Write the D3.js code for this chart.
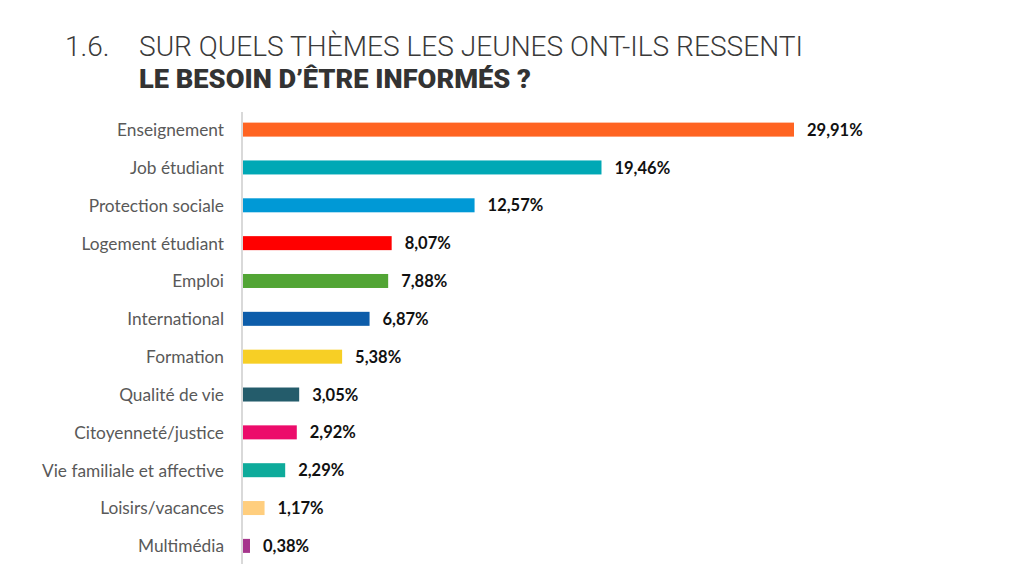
<!DOCTYPE html>
<html><head><meta charset="utf-8">
<script src="https://cdn.jsdelivr.net/npm/d3@7"></script>
<style>body{margin:0;background:#fff}svg{display:block}</style>
</head><body><svg id="c" width="1024" height="579"></svg>
<script>
const categories = ["Enseignement","Job étudiant","Protection sociale","Logement étudiant","Emploi","International","Formation","Qualité de vie","Citoyenneté/justice","Vie familiale et affective","Loisirs/vacances","Multimédia"];
const values = [29.91,19.46,12.57,8.07,7.88,6.87,5.38,3.05,2.92,2.29,1.17,0.38];
const valueLabels = ["29,91%","19,46%","12,57%","8,07%","7,88%","6,87%","5,38%","3,05%","2,92%","2,29%","1,17%","0,38%"];
const colors = ["#FF6422","#00A8B5","#0099D6","#FF0000","#52A535","#0D5DAA","#F7CF25","#245C6B","#EC0C6B","#0EAB9B","#FFCE7E","#A6368C"];
const titleNum = "1.6.";
const titleLine1 = "SUR QUELS THÈMES LES JEUNES ONT-ILS RESSENTI";
const titleLine2 = "LE BESOIN D’ÊTRE INFORMÉS ?";

const svg = d3.select("#c");
const x0 = 243;
const x = d3.scaleLinear().domain([0, 29.91]).range([x0, 794]);
const y = d3.scaleBand().domain(categories).range([110.5, 565]).paddingInner(0.63).paddingOuter(0.32);

// title
svg.append("text").attr("x",65).attr("y",56).attr("font-family","Roboto").attr("font-weight",300)
  .attr("font-size",28).attr("fill","#3a3a3a").text(titleNum);
svg.append("text").attr("x",139).attr("y",56).attr("font-family","Roboto").attr("font-weight",300)
  .attr("font-size",28).attr("fill","#3a3a3a").attr("textLength",664).attr("lengthAdjust","spacingAndGlyphs").text(titleLine1);
svg.append("text").attr("x",139).attr("y",88).attr("font-family","Roboto").attr("font-weight",900)
  .attr("font-size",26).attr("fill","#333").attr("textLength",392).attr("lengthAdjust","spacingAndGlyphs").text(titleLine2);

// bars
svg.append("g").selectAll("rect").data(categories).join("rect")
  .attr("x", x0).attr("y", d => y(d)).attr("height", y.bandwidth())
  .attr("width", (d,i) => x(values[i]) - x0).attr("fill", (d,i) => colors[i]);

// axis line
svg.append("line").attr("x1",242).attr("x2",242).attr("y1",112).attr("y2",564)
  .attr("stroke","#d9d9d9").attr("stroke-width",2);

// category labels
const yAxis = d3.axisLeft(y).tickSize(0).tickPadding(19);
const g = svg.append("g").attr("transform",`translate(${x0},0)`).call(yAxis);
g.select(".domain").remove();
g.selectAll("text").attr("font-family","Lato").attr("font-size",17.3).attr("fill","#595959").attr("dy","0.37em");

// value labels
svg.append("g").selectAll("text").data(categories).join("text")
  .attr("x",(d,i)=>x(values[i])+13).attr("y",d=>y(d)+y.bandwidth()/2).attr("dy","0.37em")
  .attr("font-family","Lato").attr("font-weight",700).attr("font-size",16.5).attr("fill","#111")
  .text((d,i)=>valueLabels[i]);
</script></body></html>
